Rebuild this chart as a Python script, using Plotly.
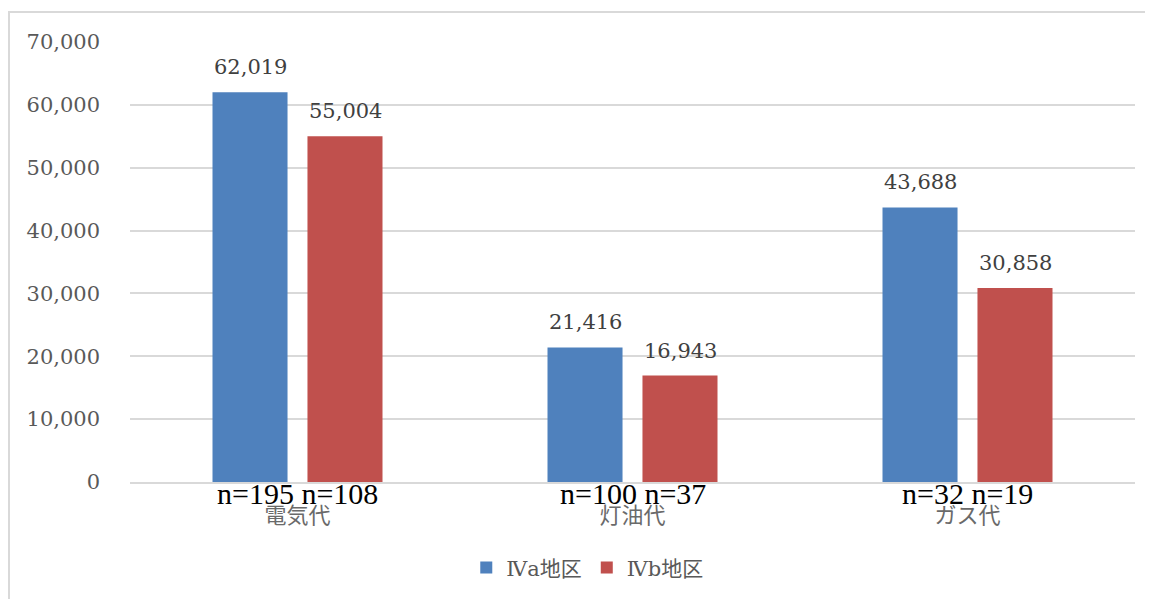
import plotly.graph_objects as go

categories = ["電気代", "灯油代", "ガス代"]
series_names = ["Ⅳa地区", "Ⅳb地区"]
iva_values = [62019, 21416, 43688]
ivb_values = [55004, 16943, 30858]
iva_n = [195, 100, 32]
ivb_n = [108, 37, 19]
y_ticks = [0, 10000, 20000, 30000, 40000, 50000, 60000, 70000]

colors = ["#4F81BD", "#C0504D"]
serif = "DejaVu Serif, Noto Sans CJK JP, serif"
times = "Liberation Serif, Times New Roman, serif"

fig = go.Figure()
for name, vals, col in zip(series_names, [iva_values, ivb_values], colors):
    fig.add_trace(go.Bar(
        x=categories, y=vals, name=name,
        marker=dict(color=col, line=dict(width=0)),
    ))

# data labels above bars (offset to each bar of the group)
for vals, shift in zip([iva_values, ivb_values], [-47.5, 47.5]):
    for cat, v in zip(categories, vals):
        fig.add_annotation(x=cat, y=v, xref="x", yref="y", xshift=shift, yshift=11,
                           text=f"{v:,}", showarrow=False, yanchor="bottom",
                           font=dict(family=serif, size=21, color="#404040"))

for cat, a, b in zip(categories, iva_n, ivb_n):
    fig.add_annotation(x=cat, xref="x", y=0, yref="y", yshift=7,
                       text=f"n={a} n={b}", showarrow=False, yanchor="top",
                       font=dict(family=times, size=30, color="#000000"))

fig.update_layout(
    width=1153, height=599,
    margin=dict(l=122, r=26, t=34, b=125),
    paper_bgcolor="white", plot_bgcolor="white",
    barmode="group", bargap=0.433, bargroupgap=0.21,
    showlegend=True,
    legend=dict(orientation="h", x=0.455, xref="paper", xanchor="center",
                y=-0.195, yanchor="middle",
                font=dict(family=serif, size=21, color="#595959"),
                itemwidth=30, traceorder="normal"),
)
fig.update_yaxes(range=[0, 70000], tickvals=y_ticks,
                 ticktext=[f"{v:,}" for v in y_ticks],
                 showgrid=True, gridcolor="#D9D9D9", gridwidth=1.5,
                 zeroline=False, showline=False,
                 tickfont=dict(family=serif, size=21, color="#595959"),
                 ticklabelstandoff=29)
fig.update_xaxes(showline=True, linecolor="#D9D9D9", linewidth=1.5,
                 tickfont=dict(family="Noto Sans CJK JP, sans-serif", size=22, color="#6a6a6a"),
                 ticklabelstandoff=13, ticks="")

fig.add_shape(type="rect", xref="paper", yref="paper",
              x0=-121/1005, x1=1.1, y0=-0.4, y1=1 + 30/440,
              line=dict(color="#D9D9D9", width=2), fillcolor="rgba(0,0,0,0)")

fig.write_html("out.html")
